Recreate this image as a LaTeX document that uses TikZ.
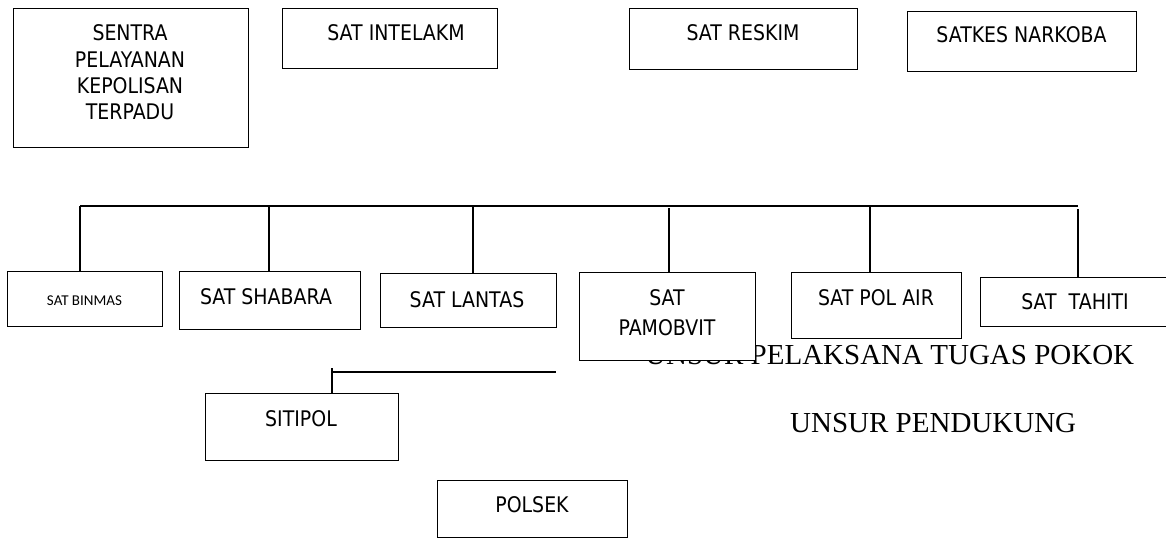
\documentclass[tikz,border=0pt]{standalone}
\usepackage{fontspec}
\setmainfont{Liberation Serif}
\newfontfamily\boxfont[FakeStretch=0.88]{DejaVu Sans}
\newfontfamily\smallfont{Carlito}
\begin{document}
\begin{tikzpicture}[x=1pt,y=-1pt,
  unitbox/.style={draw=black, line width=1.3pt, fill=white, inner sep=0pt, anchor=north west},
  boxtext/.style={font=\boxfont\fontsize{21.5}{26.3}\selectfont, align=center, inner sep=0pt},
  smalltext/.style={font=\smallfont\fontsize{15}{18}\selectfont, inner sep=0pt},
  wire/.style={line width=1.4pt},
  caption/.style={font=\fontsize{29}{33}\selectfont, inner sep=0pt, anchor=base west}
]
\useasboundingbox (0,0) rectangle (1166,538);

% top row
\node[unitbox, minimum width=235pt, minimum height=139pt] (sentra) at (13,8) {};
\node[boxtext] (tsentra) at (130,72.5) {SENTRA\\PELAYANAN\\KEPOLISAN\\TERPADU};
\node[unitbox, minimum width=215pt, minimum height=60pt] (intel) at (282,8) {};
\node[boxtext] (tintel) at (396,33) {SAT INTELAKM};
\node[unitbox, minimum width=228pt, minimum height=61pt] (reskim) at (629,8) {};
\node[boxtext] (treskim) at (743,33) {SAT RESKIM};
\node[unitbox, minimum width=229pt, minimum height=60pt] (narkoba) at (907,11) {};
\node[boxtext] (tnarkoba) at (1021.5,35) {SATKES NARKOBA};

% bus
\coordinate (busL) at (80,206);
\coordinate (busR) at (1078,206);
\draw[wire] (busL) -- (busR);

% captions
\node[caption] (pokok) at (645,364) {UNSUR PELAKSANA TUGAS POKOK};
\node[caption] (pendukung) at (790,432) {UNSUR PENDUKUNG};

% middle row
\node[unitbox, minimum width=155pt, minimum height=55pt] (binmas) at (7,271) {};
\node[smalltext] (tbinmas) at (84.5,300.5) {SAT BINMAS};
\node[unitbox, minimum width=181pt, minimum height=58pt] (shabara) at (179,271) {};
\node[boxtext] (tshabara) at (266,297) {SAT SHABARA};
\node[unitbox, minimum width=176pt, minimum height=54pt] (lantas) at (380,273) {};
\node[boxtext] (tlantas) at (467,300) {SAT LANTAS};
\node[unitbox, minimum width=176pt, minimum height=88pt] (pamob) at (579,272) {};
\node[boxtext, font=\boxfont\fontsize{21.5}{29.5}\selectfont] (tpamob) at (667,312.75) {SAT\\PAMOBVIT};
\node[unitbox, minimum width=170pt, minimum height=66pt] (polair) at (791,272) {};
\node[boxtext] (tpolair) at (876,297.5) {SAT POL AIR};
\node[unitbox, minimum width=190pt, minimum height=49pt] (tahiti) at (980,277) {};
\node[boxtext] (ttahiti) at (1075,302) {SAT\ \ TAHITI};

\coordinate (b1) at (80,206);
\coordinate (b2) at (269,206);
\coordinate (b3) at (473,206);
\coordinate (b4) at (669,208);
\coordinate (b5) at (870,206);
\coordinate (b6) at (1078,209);
\draw[wire] (b1) -- (b1 |- binmas.north);
\draw[wire] (b2) -- (b2 |- shabara.north);
\draw[wire] (b3) -- (b3 |- lantas.north);
\draw[wire] (b4) -- (b4 |- pamob.north);
\draw[wire] (b5) -- (b5 |- polair.north);
\draw[wire] (b6) -- (b6 |- tahiti.north);

% lower part
\node[unitbox, minimum width=193pt, minimum height=67pt] (sitipol) at (205,393) {};
\node[boxtext] (tsitipol) at (301,419) {SITIPOL};
\coordinate (s1) at (332,368);
\coordinate (s2) at (556,372);
\draw[wire] (s1) -- (s1 |- sitipol.north);
\draw[wire] (s1 |- s2) -- (s2);

\node[unitbox, minimum width=190pt, minimum height=57pt] (polsek) at (437,480) {};
\node[boxtext] (tpolsek) at (532,505) {POLSEK};
\end{tikzpicture}
\end{document}
